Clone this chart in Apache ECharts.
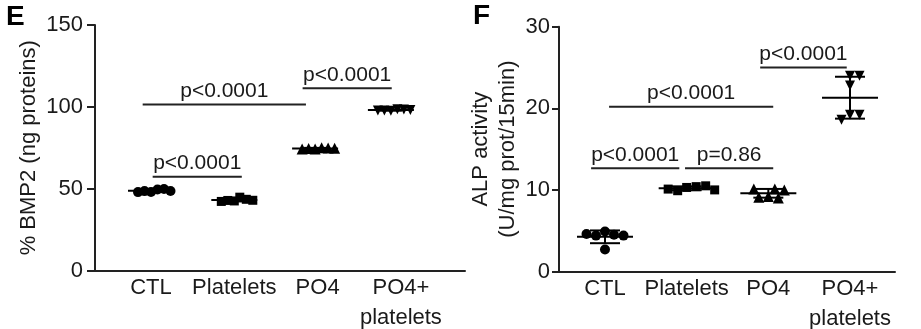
<!DOCTYPE html>
<html>
<head>
<meta charset="utf-8">
<script src="https://cdn.jsdelivr.net/npm/echarts@6/dist/echarts.min.js"></script>
<style>
  html, body { margin: 0; padding: 0; background: #fff; }
  #chart { width: 921px; height: 329px; }
</style>
</head>
<body>
<div id="chart"></div>
<script>
// Treatment groups shared by both panels
const categories = ['CTL', 'Platelets', 'PO4', 'PO4+\nplatelets'];

// Panel E: BMP2 content, six replicates per group
const bmp2CTL = [48.0, 49.5, 48.5, 49.8, 47.9, 48.6];
const bmp2Platelets = [42.5, 44.8, 42.8, 43.5, 42.2, 42.9];
const bmp2PO4 = [74.2, 75.0, 74.5, 74.9, 74.3, 74.7];
const bmp2PO4Platelets = [97.6, 98.5, 97.8, 98.4, 97.7, 98.0];
const bmp2Ticks = [0, 50, 100, 150];

// Panel F: ALP activity, six replicates per group
const alpCTL = [4.9, 2.7, 4.5, 4.4, 4.4, 4.6];
const alpPlatelets = [10.3, 10.4, 9.9, 10.1, 10.5, 10.0];
const alpPO4 = [9.2, 10.1, 9.1, 10.1, 9.0, 10.0];
const alpPO4Platelets = [22.8, 24.0, 24.0, 19.2, 19.2, 18.6];
const alpTicks = [0, 10, 20, 30];

// Pairwise comparisons: [bar start, bar end, bar height, p-value]
const bmp2Tests = [
  [0.02, 1.09, 57.3, 'p<0.0001'],
  [-0.10, 1.86, 101.5, 'p<0.0001'],
  [1.82, 2.89, 111.3, 'p<0.0001']
];
const alpTests = [
  [-0.17, 0.91, 12.65, 'p<0.0001'],
  [0.98, 2.06, 12.65, 'p=0.86'],
  [0.05, 2.06, 20.2, 'p<0.0001'],
  [1.90, 2.96, 25.0, 'p<0.0001']
];

// Where each group's dots sit along the x axis
const bmp2GroupX = [0, 1, 1.97, 2.88];
const alpGroupX = [0, 1, 2, 3];

// ---- layout ----
const FONT = '"Liberation Sans", Arial, sans-serif';
const INK = '#1a1a1a';
const LINE = '#222';

const panels = [
  {
    groups: [bmp2CTL, bmp2Platelets, bmp2PO4, bmp2PO4Platelets],
    groupX: bmp2GroupX, ticks: bmp2Ticks, tests: bmp2Tests,
    grid: { left: 95, top: 25, width: 370, height: 245.5 },
    xMin: -0.6723, xMax: 3.7695,
    name: '% BMP2 (ng proteins)', nameGap: 51,
    labelMargin: 12, tickLen: 8,
    symbolSize: 10, minDist: 6.5, meanHalf: 23, capHalf: 11
  },
  {
    groups: [alpCTL, alpPlatelets, alpPO4, alpPO4Platelets],
    groupX: alpGroupX, ticks: alpTicks, tests: alpTests,
    grid: { left: 559, top: 26.7, width: 336, height: 244.8 },
    xMin: -0.5632, xMax: 3.5509,
    name: 'ALP activity\n(U/mg prot/15min)', nameGap: 34,
    labelMargin: 9, tickLen: 7,
    symbolSize: 10, minDist: 9.5, meanHalf: 28, capHalf: 15
  }
];

const symbols = ['circle', 'rect', 'triangle', 'path://M0,0 L10,0 L5,10 Z'];
const symbolScale = [1, 0.9, 1.1, 1.0];

// Beeswarm offsets (pixels) so overlapping replicates spread sideways
function swarm(values, ppuY, minDist) {
  const placed = [];
  return values.map(v => {
    const y = v * ppuY;
    let dx = 0;
    for (let k = 0; k < 600; k++) {
      const cand = k === 0 ? 0 : (k % 2 ? 1 : -1) * Math.ceil(k / 2) * 0.5;
      if (placed.every(p => Math.hypot(cand - p[0], y - p[1]) >= minDist)) { dx = cand; break; }
    }
    placed.push([dx, y]);
    return dx;
  });
}

function meanSd(values) {
  const n = values.length;
  const m = values.reduce((a, b) => a + b, 0) / n;
  const sd = Math.sqrt(values.reduce((a, b) => a + (b - m) * (b - m), 0) / (n - 1));
  return [m, sd];
}

const grids = [], xAxes = [], yAxes = [], series = [];

panels.forEach((p, pi) => {
  grids.push(Object.assign({ containLabel: false, outerBoundsMode: 'none' }, p.grid));
  const yMax = p.ticks[p.ticks.length - 1];
  const ppuX = p.grid.width / (p.xMax - p.xMin);
  const ppuY = p.grid.height / yMax;

  xAxes.push({
    type: 'value', gridIndex: pi, min: p.xMin, max: p.xMax,
    axisLine: { show: true, onZero: false, lineStyle: { color: LINE, width: 2 } },
    axisTick: { show: false },
    splitLine: { show: false },
    axisLabel: {
      customValues: [0, 1, 2, 3],
      formatter: v => categories[Math.round(v)],
      color: INK, fontFamily: FONT, fontSize: 22, lineHeight: 30, margin: 2
    }
  });
  yAxes.push({
    type: 'value', gridIndex: pi, min: 0, max: yMax, interval: p.ticks[1] - p.ticks[0],
    axisLine: { show: true, onZero: false, lineStyle: { color: LINE, width: 2 } },
    axisTick: { show: true, length: p.tickLen, lineStyle: { color: LINE, width: 2 } },
    splitLine: { show: false },
    axisLabel: { color: INK, fontFamily: FONT, fontSize: 22, margin: p.labelMargin },
    name: p.name, nameLocation: 'middle', nameGap: p.nameGap,
    nameTextStyle: { color: INK, fontFamily: FONT, fontSize: 22, lineHeight: 27 }
  });

  // replicate dots
  p.groups.forEach((vals, gi) => {
    const offs = swarm(vals, ppuY, p.minDist);
    series.push({
      type: 'scatter', xAxisIndex: pi, yAxisIndex: pi,
      symbol: symbols[gi], symbolSize: p.symbolSize * symbolScale[gi],
      itemStyle: { color: '#000', opacity: 1 },
      data: vals.map((v, i) => [p.groupX[gi] + offs[i] / ppuX, v]),
      z: 3, silent: true
    });
  });

  // mean line with SD whiskers
  series.push({
    type: 'custom', xAxisIndex: pi, yAxisIndex: pi, z: 4, silent: true,
    data: p.groups.map((vals, gi) => [p.groupX[gi]].concat(meanSd(vals))),
    encode: { x: 0, y: 1 },
    renderItem: (params, api) => {
      const x = api.value(0), m = api.value(1), sd = api.value(2);
      const c = api.coord([x, m]);
      const hi = api.coord([x, m + sd]);
      const lo = api.coord([x, m - sd]);
      const st = { stroke: '#000', lineWidth: 2 };
      return {
        type: 'group',
        children: [
          { type: 'line', shape: { x1: c[0] - p.meanHalf, y1: c[1], x2: c[0] + p.meanHalf, y2: c[1] }, style: st },
          { type: 'line', shape: { x1: c[0], y1: hi[1], x2: c[0], y2: lo[1] }, style: st },
          { type: 'line', shape: { x1: c[0] - p.capHalf, y1: hi[1], x2: c[0] + p.capHalf, y2: hi[1] }, style: st },
          { type: 'line', shape: { x1: c[0] - p.capHalf, y1: lo[1], x2: c[0] + p.capHalf, y2: lo[1] }, style: st }
        ]
      };
    }
  });

  // comparison bars with p-values
  series.push({
    type: 'custom', xAxisIndex: pi, yAxisIndex: pi, z: 5, silent: true,
    data: p.tests.map(t => [t[0], t[1], t[2]]),
    encode: { x: [0, 1], y: 2 },
    renderItem: (params, api) => {
      const a = api.coord([api.value(0), api.value(2)]);
      const b = api.coord([api.value(1), api.value(2)]);
      return {
        type: 'group',
        children: [
          { type: 'line', shape: { x1: a[0], y1: a[1], x2: b[0], y2: b[1] }, style: { stroke: LINE, lineWidth: 2 } },
          { type: 'text', style: {
              text: p.tests[params.dataIndex][3], x: (a[0] + b[0]) / 2, y: a[1] - 3,
              align: 'center', verticalAlign: 'bottom',
              fill: INK, font: '21px ' + FONT } }
        ]
      };
    }
  });
});

const chart = echarts.init(document.getElementById('chart'), null, { renderer: 'canvas' });
chart.setOption({
  animation: false,
  backgroundColor: '#fff',
  grid: grids, xAxis: xAxes, yAxis: yAxes, series: series,
  graphic: [
    { type: 'text', left: 6, top: 3, style: { text: 'E', fill: '#000', font: 'bold 28px ' + FONT } },
    { type: 'text', left: 473, top: 2, style: { text: 'F', fill: '#000', font: 'bold 28px ' + FONT } }
  ]
});
</script>
</body>
</html>
